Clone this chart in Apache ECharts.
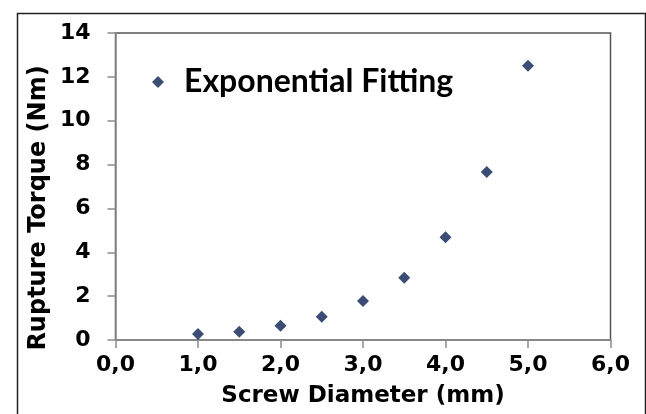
<!DOCTYPE html>
<html><head><meta charset="utf-8">
<script src="https://cdn.jsdelivr.net/npm/echarts@6/dist/echarts.min.js"></script>
<style>html,body{margin:0;padding:0;background:#fff}#c{width:646px;height:414px}</style>
</head><body><div id="c"></div>
<script>
const diameters = [1.0, 1.5, 2.0, 2.5, 3.0, 3.5, 4.0, 4.5, 5.0];
const torques = [0.27, 0.38, 0.65, 1.06, 1.78, 2.84, 4.68, 7.66, 12.51];
const seriesName = 'Exponential Fitting';
const xTitle = 'Screw Diameter (mm)';
const yTitle = 'Rupture Torque (Nm)';

const chart = echarts.init(document.getElementById('c'), null, {renderer: 'canvas'});
const labelFont = {fontFamily: 'DejaVu Sans', fontWeight: 'bold', fontSize: 22, color: '#000'};
chart.setOption({
  animation: false,
  backgroundColor: '#fff',
  grid: {left: 115.5, right: 35.5, top: 33, bottom: 74, show: true, borderColor: '#555', borderWidth: 1.5},
  legend: {
    left: 147, top: 61, icon: 'diamond', itemWidth: 12, itemHeight: 12, itemGap: 10,
    textStyle: {fontFamily: 'Lato', fontWeight: 'bold', fontSize: 32, color: '#000', padding: [0, 0, 0, 15]},
    data: [seriesName]
  },
  xAxis: {
    type: 'value', min: 0, max: 6, interval: 1,
    name: xTitle, nameLocation: 'middle', nameGap: 45,
    nameTextStyle: Object.assign({}, labelFont, {fontSize: 23}),
    axisLine: {show: true, lineStyle: {color: '#8c8c8c', width: 1.5}},
    axisTick: {show: true, inside: false, length: 8, lineStyle: {color: '#8c8c8c', width: 1.5}},
    axisLabel: Object.assign({margin: 14, formatter: v => v.toFixed(1).replace('.', ',')}, labelFont),
    splitLine: {show: false}
  },
  yAxis: {
    type: 'value', min: 0, max: 14, interval: 2,
    axisLine: {show: true, lineStyle: {color: '#8c8c8c', width: 1.5}},
    axisTick: {show: true, inside: false, length: 8, lineStyle: {color: '#8c8c8c', width: 1.5}},
    axisLabel: Object.assign({margin: 25}, labelFont),
    splitLine: {show: false}
  },
  graphic: [
    {type: 'rect', left: 15, top: 11, shape: {width: 628, height: 420}, style: {fill: 'none', stroke: '#222', lineWidth: 1.5}, silent: true},
    {type: 'text', x: 39, y: 208, rotation: Math.PI / 2,
     style: {text: yTitle, fontFamily: 'DejaVu Sans', fontWeight: 'bold', fontSize: 24, fill: '#000', align: 'center', verticalAlign: 'middle'}}
  ],
  series: [{
    name: seriesName, type: 'scatter', symbol: 'diamond', symbolSize: [12, 12],
    itemStyle: {color: '#0a1f52'},
    data: diameters.map((d, i) => [d, torques[i]])
  }]
});
</script></body></html>
